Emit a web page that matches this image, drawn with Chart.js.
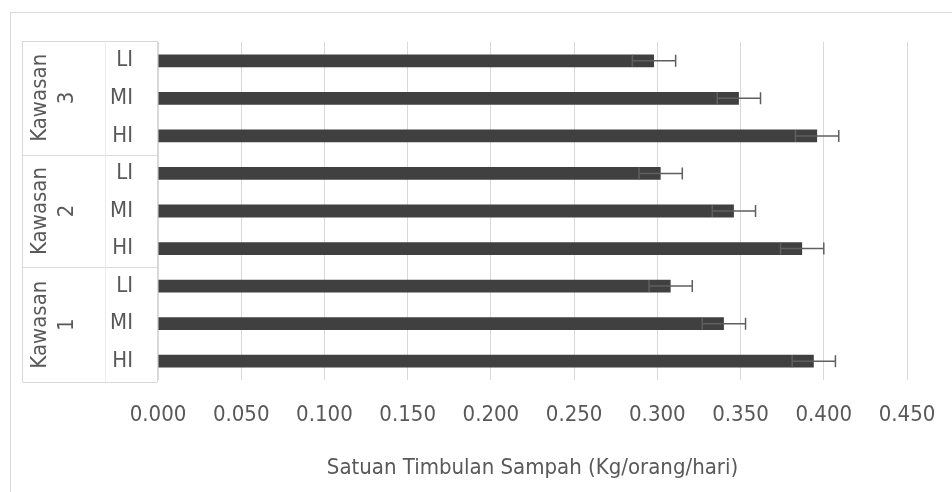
<!DOCTYPE html>
<html>
<head>
<meta charset="utf-8">
<script src="https://cdn.jsdelivr.net/npm/chart.js@4.4.0/dist/chart.umd.min.js"></script>
<style>
  html, body { margin: 0; padding: 0; background: #ffffff; }
  #wrap { width: 952px; height: 492px; }
</style>
</head>
<body>
<div id="wrap"><canvas id="chart" width="952" height="492"></canvas></div>
<script>
// data, top to bottom as in the picture
const groups = ['Kawasan 3', 'Kawasan 2', 'Kawasan 1'];
const labels = ['LI', 'MI', 'HI', 'LI', 'MI', 'HI', 'LI', 'MI', 'HI'];
const values = [0.298, 0.349, 0.396, 0.302, 0.346, 0.387, 0.308, 0.340, 0.394];
const errors = [0.013, 0.013, 0.013, 0.013, 0.013, 0.013, 0.013, 0.013, 0.013];
const xTicks = [0, 0.05, 0.1, 0.15, 0.2, 0.25, 0.3, 0.35, 0.4, 0.45];

const FONT = '"DejaVu Sans Condensed", "DejaVu Sans", sans-serif';
const TXT = '#595959';
const LINE = '#d9d9d9';

// error bars + the two-level category box on the left
const extras = {
    id: 'extras',
    afterDatasetsDraw(chart) {
        const ctx = chart.ctx;
        const x = chart.scales.x;
        const meta = chart.getDatasetMeta(0);
        ctx.save();
        ctx.strokeStyle = '#5f5f5f';
        ctx.lineWidth = 1.5;
        meta.data.forEach((bar, i) => {
            const cy = bar.y;
            const x1 = x.getPixelForValue(values[i] - errors[i]);
            const x2 = x.getPixelForValue(values[i] + errors[i]);
            ctx.beginPath();
            ctx.moveTo(x1, cy);
            ctx.lineTo(x2, cy);
            ctx.moveTo(x1, cy - 6);
            ctx.lineTo(x1, cy + 6);
            ctx.moveTo(x2, cy - 6);
            ctx.lineTo(x2, cy + 6);
            ctx.stroke();
        });
        ctx.restore();
    },
    afterDraw(chart) {
        const ctx = chart.ctx;
        const y = chart.scales.y;
        ctx.save();
        // outer chart border
        ctx.strokeStyle = LINE;
        ctx.lineWidth = 1;
        ctx.strokeRect(10.5, 12.5, 1200, 1200);

        const left = 22.5, mid = 105.5, right = Math.round(y.right) - 0.5;
        const top = y.top - 1, bottom = y.bottom + 2;
        const bounds = [top];
        for (let g = 1; g < groups.length; g++) {
            const a = y.getPixelForTick(g * 3 - 1);
            const b = y.getPixelForTick(g * 3);
            bounds.push((a + b) / 2);
        }
        bounds.push(bottom);

        ctx.beginPath();
        bounds.forEach(b => {
            const yy = Math.round(b) + 0.5;
            ctx.moveTo(left, yy);
            ctx.lineTo(right, yy);
        });
        ctx.moveTo(left, top);
        ctx.lineTo(left, bottom);
        ctx.moveTo(right, top);
        ctx.lineTo(right, bottom);
        ctx.stroke();

        ctx.strokeStyle = '#ececec';
        ctx.beginPath();
        ctx.moveTo(mid, top);
        ctx.lineTo(mid, bottom);
        ctx.stroke();

        ctx.fillStyle = TXT;
        ctx.font = '22px ' + FONT;
        ctx.textAlign = 'center';
        ctx.textBaseline = 'middle';
        groups.forEach((g, i) => {
            const cy = (bounds[i] + bounds[i + 1]) / 2;
            const parts = g.split(' ');
            ctx.save();
            ctx.translate(40, cy);
            ctx.rotate(-Math.PI / 2);
            ctx.fillText(parts[0], 0, 0);
            ctx.fillText(parts[1], 0, 27);
            ctx.restore();
        });
        ctx.restore();
    }
};

new Chart(document.getElementById('chart'), {
    type: 'bar',
    data: {
        labels: labels,
        datasets: [{
            data: values,
            backgroundColor: '#404040',
            borderWidth: 0,
            categoryPercentage: 1,
            barPercentage: 0.34
        }]
    },
    options: {
        indexAxis: 'y',
        responsive: false,
        animation: false,
        layout: { padding: { top: 42, right: 45, bottom: 0, left: 0 } },
        plugins: {
            legend: { display: false },
            tooltip: { enabled: false }
        },
        scales: {
            x: {
                min: 0,
                max: 0.45,
                afterBuildTicks: s => { s.ticks = xTicks.map(v => ({ value: v })); },
                afterFit: s => {
                    s.height = 112;
                    s.paddingLeft = 0;
                    s.paddingRight = 0;
                },
                grid: { color: LINE, lineWidth: 1, drawTicks: false },
                border: { display: false },
                ticks: {
                    padding: 22,
                    color: TXT,
                    font: { family: FONT, size: 22 },
                    callback: v => Number(v).toFixed(3)
                },
                title: {
                    display: true,
                    text: 'Satuan Timbulan Sampah (Kg/orang/hari)',
                    color: TXT,
                    font: { family: FONT, size: 22 },
                    padding: { top: 0, bottom: 11 }
                }
            },
            y: {
                afterFit: s => { s.width = 158; },
                grid: { display: false, drawTicks: false },
                border: { display: false },
                ticks: {
                    padding: 25,
                    color: TXT,
                    font: { family: FONT, size: 22 }
                }
            }
        }
    },
    plugins: [extras]
});
</script>
</body>
</html>
